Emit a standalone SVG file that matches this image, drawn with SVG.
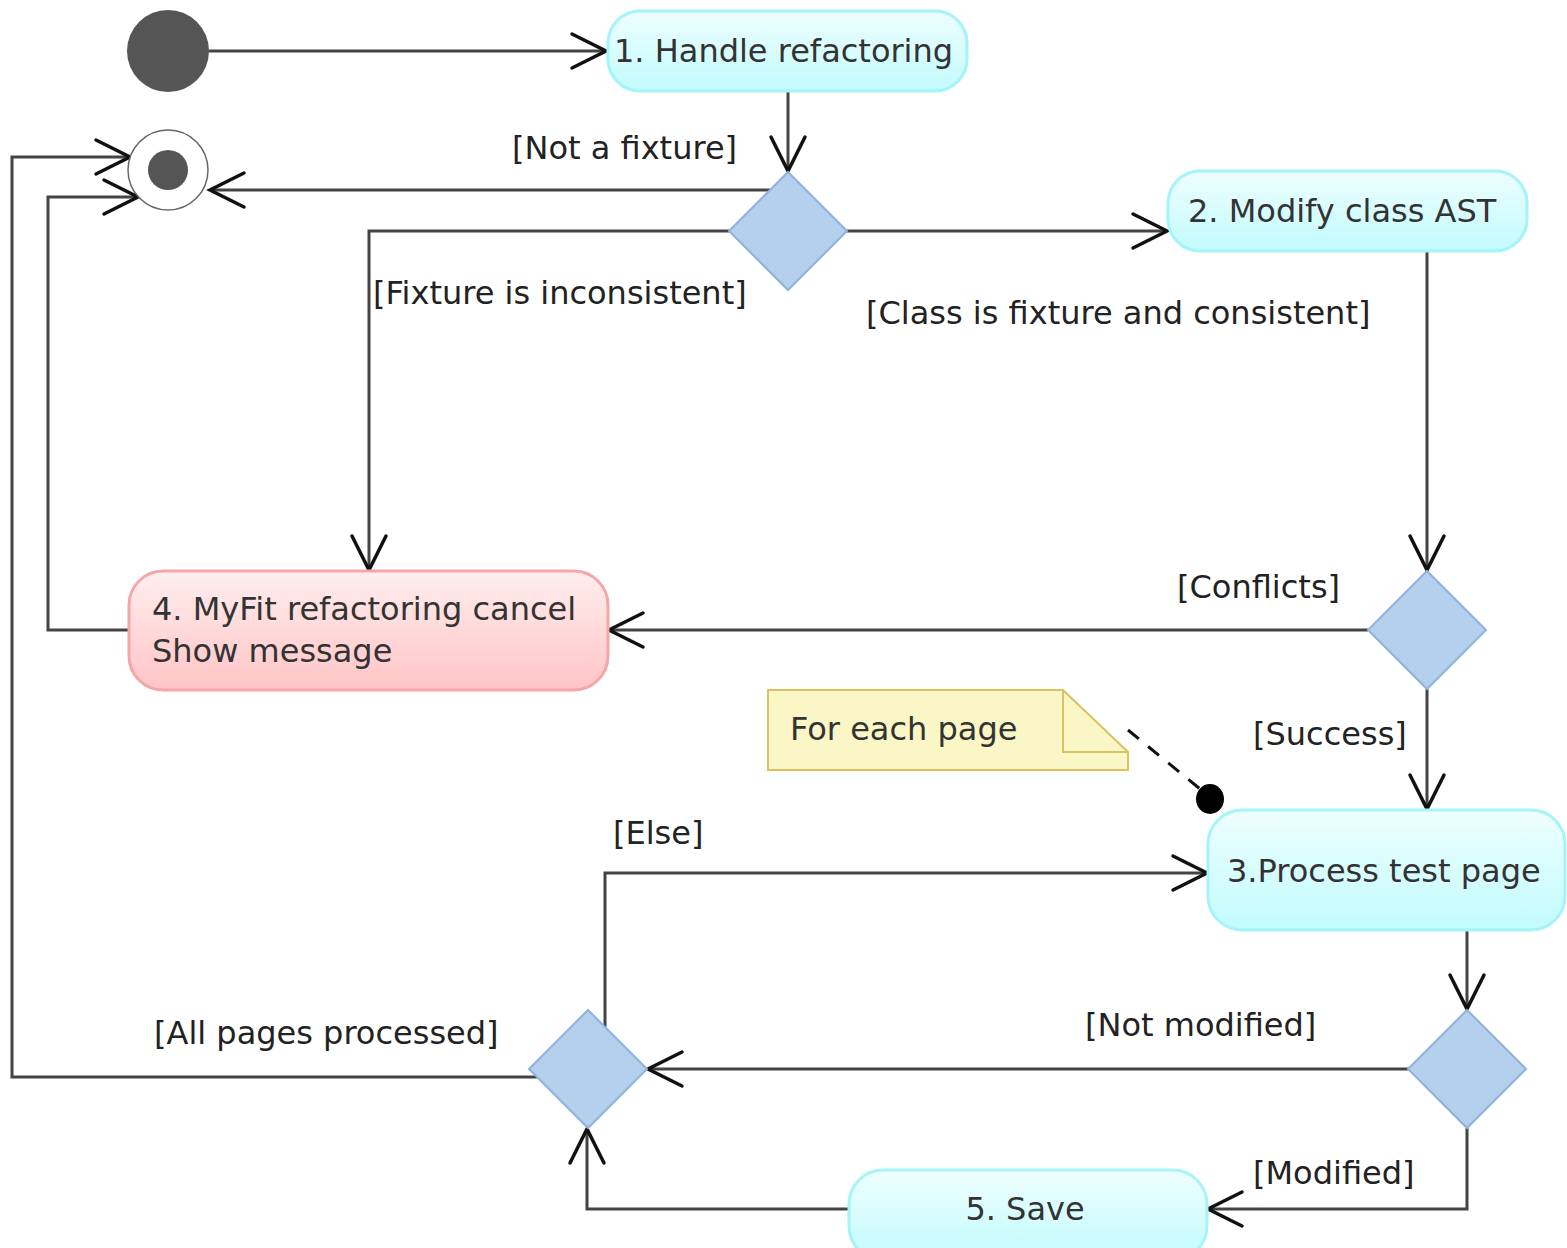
<svg xmlns="http://www.w3.org/2000/svg" width="1567" height="1248" viewBox="0 0 1567 1248">
<defs>
<linearGradient id="gCyan" x1="0" y1="0" x2="0" y2="1"><stop offset="0" stop-color="#eefeff"/><stop offset="1" stop-color="#c2fbfd"/></linearGradient>
<linearGradient id="gPink" x1="0" y1="0" x2="0" y2="1"><stop offset="0" stop-color="#ffeeee"/><stop offset="1" stop-color="#ffc4c6"/></linearGradient>
<marker id="arr" markerUnits="userSpaceOnUse" markerWidth="50" markerHeight="50" viewBox="-40 -25 50 50" refX="0" refY="0" orient="auto">
<path d="M -34 -17 L 0 0 L -34 17" fill="none" stroke="#111" stroke-width="3.5" stroke-linecap="round" stroke-linejoin="miter"/>
</marker>
</defs>
<style>
.act{stroke:#a4f4f8;stroke-width:3;fill:url(#gCyan)}
.cancel{stroke:#f4a6a8;stroke-width:3;fill:url(#gPink)}
.dec{fill:#b5d0ec;stroke:#8fb2dc;stroke-width:2}
.t{font-family:"DejaVu Sans","Verdana",sans-serif;font-size:32px;fill:#333}
.lbl{font-family:"DejaVu Sans","Verdana",sans-serif;font-size:32px;fill:#222}
.ln{fill:none;stroke:#444;stroke-width:3}
.ar{marker-end:url(#arr)}
</style>
<rect width="1567" height="1248" fill="#ffffff"/>
<g id="connectors">
<polyline class="ln ar" points="209,51 606,51"/>
<polyline class="ln ar" points="788,91 788,171"/>
<polyline class="ln ar" points="770,190 210,190"/>
<polyline class="ln ar" points="729,231 369,231 369,570"/>
<polyline class="ln ar" points="847,231 1167,231"/>
<polyline class="ln ar" points="1427,251 1427,570"/>
<polyline class="ln ar" points="1368,630 609,630"/>
<polyline class="ln ar" points="129,630 48,630 48,197 138,197"/>
<polyline class="ln ar" points="1427,689 1427,809"/>
<polyline class="ln ar" points="605,1027 605,873 1207,873"/>
<polyline class="ln ar" points="1467,930 1467,1009"/>
<polyline class="ln ar" points="1408,1069 648,1069"/>
<polyline class="ln ar" points="1467,1128 1467,1209 1208,1209"/>
<polyline class="ln ar" points="849,1209 587,1209 587,1129"/>
<polyline class="ln ar" points="537,1077 12,1077 12,157 130,157"/>
<line x1="1128" y1="730" x2="1205" y2="793" stroke="#111" stroke-width="3" stroke-dasharray="14,12"/>
<ellipse cx="1210" cy="799" rx="14" ry="15" fill="#000"/>
<text class="lbl" x="512" y="159">[Not a fixture]</text>
<text class="lbl" x="373" y="304">[Fixture is inconsistent]</text>
<text class="lbl" x="866" y="324">[Class is fixture and consistent]</text>
<text class="lbl" x="1177" y="598">[Conflicts]</text>
<text class="lbl" x="1253" y="745">[Success]</text>
<text class="lbl" x="613" y="844">[Else]</text>
<text class="lbl" x="154" y="1044">[All pages processed]</text>
<text class="lbl" x="1085" y="1036">[Not modified]</text>
<text class="lbl" x="1253" y="1184">[Modified]</text>
</g>
<g id="initial"><circle cx="168" cy="51" r="41" fill="#555555"/></g>
<g id="final"><circle cx="168" cy="170" r="40" fill="#ffffff" stroke="#666" stroke-width="1.5"/><circle cx="168" cy="170" r="20" fill="#555555"/></g>
<g id="node1"><rect class="act" x="608" y="11" width="359" height="80" rx="32"/><text class="t" x="614" y="62">1. Handle refactoring</text></g>
<g id="decision1"><polygon class="dec" points="788,172 847,231 788,290 729,231"/></g>
<g id="node2"><rect class="act" x="1168" y="171" width="359" height="80" rx="32"/><text class="t" x="1188" y="222">2. Modify class AST</text></g>
<g id="decision2"><polygon class="dec" points="1427,571 1486,630 1427,689 1368,630"/></g>
<g id="node4"><rect class="cancel" x="129" y="571" width="479" height="119" rx="34"/><text class="t" x="152" y="620">4. MyFit refactoring cancel</text><text class="t" x="152" y="662">Show message</text></g>
<g id="note"><polygon points="768,690 1063,690 1128,752 1128,770 768,770" fill="#fbf6c6" stroke="#d8c262" stroke-width="2"/><polyline points="1063,690 1063,752 1128,752" fill="none" stroke="#d8c262" stroke-width="2"/><text class="t" x="790" y="740">For each page</text></g>
<g id="node3"><rect class="act" x="1208" y="810" width="357" height="120" rx="34"/><text class="t" x="1227" y="882">3.Process test page</text></g>
<g id="decision4"><polygon class="dec" points="1467,1010 1526,1069 1467,1128 1408,1069"/></g>
<g id="decision3"><polygon class="dec" points="588,1010 647,1069 588,1128 529,1069"/></g>
<g id="node5"><rect class="act" x="849" y="1170" width="358" height="90" rx="34"/><text class="t" x="1025" y="1220" text-anchor="middle">5. Save</text></g>
</svg>
